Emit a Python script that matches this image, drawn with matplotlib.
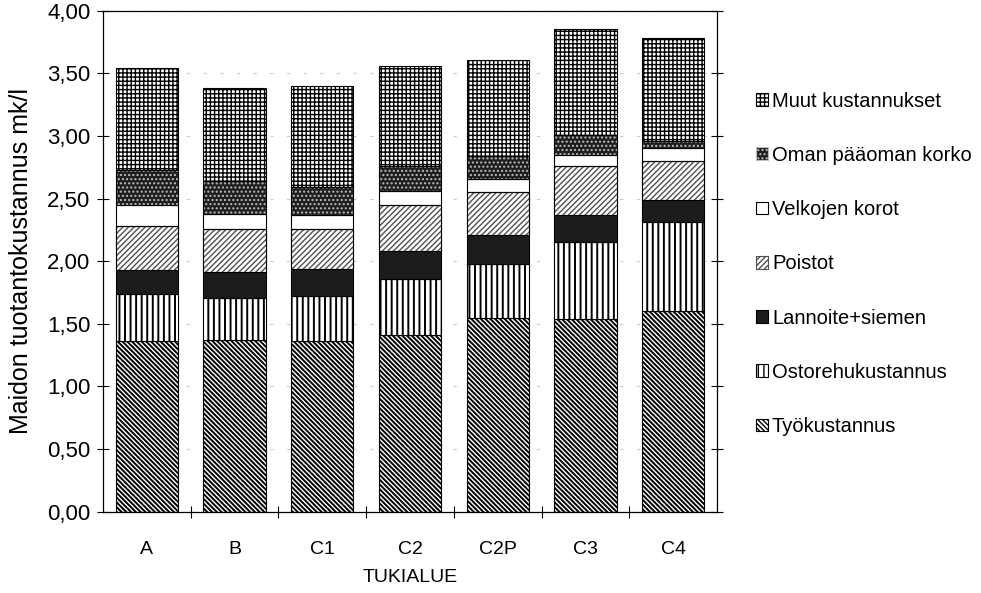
import numpy as np
import matplotlib
matplotlib.use('Agg')
import matplotlib.pyplot as plt

plt.rcParams['font.family'] = ['Liberation Sans', 'DejaVu Sans']

alueet = ['A', 'B', 'C1', 'C2', 'C2P', 'C3', 'C4']

# kustannuserät mk/l, alhaalta ylös
tyo = [1.36, 1.37, 1.36, 1.41, 1.55, 1.54, 1.60]
ostorehu = [0.38, 0.34, 0.36, 0.45, 0.43, 0.61, 0.71]
lannoite = [0.19, 0.20, 0.22, 0.22, 0.23, 0.22, 0.18]
poistot = [0.35, 0.35, 0.32, 0.37, 0.34, 0.39, 0.31]
velkojen = [0.17, 0.12, 0.11, 0.11, 0.11, 0.09, 0.10]
oman = [0.28, 0.26, 0.22, 0.20, 0.18, 0.16, 0.06]
muut = [0.81, 0.74, 0.81, 0.80, 0.77, 0.84, 0.82]

# nimi, arvot, täyttö, kuvio, kuvion väri, kuvion viivan paksuus
erat = [
    ('Työkustannus', tyo, 'white', '\\\\\\\\\\\\\\', 'black', 1.4),
    ('Ostorehukustannus', ostorehu, 'white', '|||', 'black', 1.4),
    ('Lannoite+siemen', lannoite, '#1c1c1c', '', 'black', 1.0),
    ('Poistot', poistot, 'white', '//////', '#505050', 1.0),
    ('Velkojen korot', velkojen, 'white', '', 'black', 1.0),
    ('Oman pääoman korko', oman, '#1e1e1e', '....', '#bdbdbd', 1.0),
    ('Muut kustannukset', muut, 'white', '++++', 'black', 1.0),
]

fig = plt.figure(figsize=(9.81, 5.93), dpi=100)
ax = fig.add_axes([0.105, 0.137, 0.626, 0.845])

x = np.arange(len(alueet))
pohja = np.zeros(len(alueet))
kahvat = []
for nimi, arvot, fc, hatch, ec, hlw in erat:
    with plt.rc_context({'hatch.linewidth': hlw}):
        b = ax.bar(x, arvot, width=0.71, bottom=pohja, color=fc, hatch=hatch,
                   edgecolor=ec, linewidth=0.8, label=nimi, zorder=2)
    if ec != 'black':
        ax.bar(x, arvot, width=0.71, bottom=pohja, fill=False,
               edgecolor='black', linewidth=0.8, zorder=3)
    kahvat.append(b)
    pohja += np.array(arvot)

ax.set_xlim(-0.5, len(alueet) - 0.5)
ax.set_ylim(0, 4)

yt = np.arange(0, 4.01, 0.5)
ax.set_yticks(yt)
ax.set_yticklabels([f'{v:.2f}'.replace('.', ',') for v in yt], fontsize=16)
ax.tick_params(axis='y', direction='inout', length=8, width=0.8, pad=5,
               right=True)

ax.set_xticks(x)
ax.set_xticklabels(alueet, fontsize=14)
ax.tick_params(axis='x', which='major', length=0, pad=21)
ax.set_xticks(np.arange(0.5, len(alueet) - 0.5, 1), minor=True)
ax.tick_params(axis='x', which='minor', direction='inout', length=8, width=0.8)

ax.yaxis.grid(True, color='#cccccc', linestyle=(0, (3, 12)), linewidth=0.8)
ax.set_axisbelow(True)
for s in ax.spines.values():
    s.set_linewidth(0.9)

ax.set_ylabel('Maidon tuotantokustannus mk/l', fontsize=18, labelpad=10)
ax.set_xlabel('TUKIALUE', fontsize=14, labelpad=8)

ax.legend(kahvat[::-1], [e[0] for e in erat][::-1], loc='center left',
          bbox_to_anchor=(0.752, 0.555), bbox_transform=fig.transFigure,
          frameon=False, fontsize=14.5, handlelength=0.6, handleheight=0.6,
          handletextpad=0.2, labelspacing=1.75)

fig.savefig('out.png', dpi=100)
